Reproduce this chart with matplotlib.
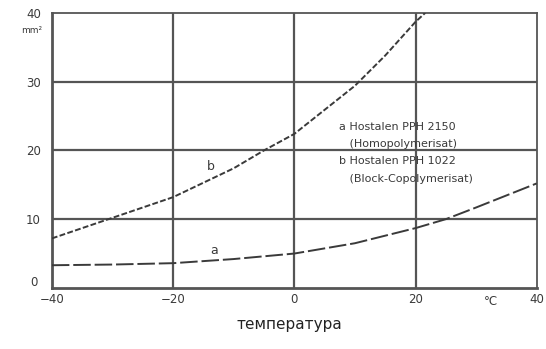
import matplotlib
matplotlib.use("Agg")
import matplotlib.pyplot as plt

# curve b: Hostalen PPH 1022 (Block-Copolymerisat)
b_temp = [-40, -30, -20, -10, -5, 0, 5, 10, 15, 20, 21.6]
b_val = [7.2, 10.2, 13.2, 17.4, 20.0, 22.4, 25.9, 29.4, 33.8, 38.7, 40.0]
# curve a: Hostalen PPH 2150 (Homopolymerisat)
a_temp = [-40, -30, -20, -10, 0, 10, 20, 25, 30, 40]
a_val = [3.3, 3.4, 3.6, 4.2, 5.0, 6.5, 8.7, 10.0, 11.7, 15.2]

x_ticks = [-40, -20, 0, 20, 40]
x_labels = ["\u221240", "\u221220", "0", "20", "40"]
y_ticks = [10, 20, 30, 40]

legend_lines = [
    "a Hostalen PPH 2150",
    "   (Homopolymerisat)",
    "b Hostalen PPH 1022",
    "   (Block-Copolymerisat)",
]

ink = "#3a3a3a"
grid = "#555555"
narrow = ["DejaVu Sans Condensed", "Liberation Sans Narrow", "DejaVu Sans"]

fig = plt.figure(figsize=(5.46, 3.49), dpi=100)
ax = fig.add_axes([0.095, 0.175, 0.888, 0.788])
ax.set_xlim(-40, 40)
ax.set_ylim(0, 40)

for v in [-20, 0, 20]:
    ax.axvline(v, color=grid, lw=1.6, zorder=1)
for h in [10, 20, 30]:
    ax.axhline(h, color=grid, lw=1.6, zorder=1)

ax.plot(b_temp, b_val, color=ink, lw=1.4, ls=(0, (3, 1.2)), zorder=3)
ax.plot(a_temp, a_val, color=ink, lw=1.4, ls=(0, (9, 2)), zorder=3)

ax.text(-13.7, 17.6, "b", fontsize=9, color=ink, ha="center", va="center")
ax.text(-13.2, 5.5, "a", fontsize=9, color=ink, ha="center", va="center")

for i, line in enumerate(legend_lines):
    ax.text(7.4, 23.4 - i * 2.5, line, fontsize=8, color=ink,
            family=narrow, va="center")

for side in ["left", "bottom"]:
    ax.spines[side].set_linewidth(2.0)
    ax.spines[side].set_color(grid)
for side in ["top", "right"]:
    ax.spines[side].set_linewidth(1.3)
    ax.spines[side].set_color(grid)

ax.set_xticks(x_ticks)
ax.set_xticklabels(x_labels)
ax.set_yticks(y_ticks)
ax.tick_params(length=0, labelsize=8.5, labelcolor=ink, pad=4)
ax.tick_params(axis="y", pad=8)
ax.text(-42.4, 0.8, "0", fontsize=8.5, color=ink, ha="right", va="center")
ax.text(32.5, -1.0, "\u00b0C", fontsize=8.5, color=ink, ha="center", va="top")
ax.text(-43.4, 37.5, "mm\u00b2", fontsize=6.5, color=ink, ha="center", va="center")

fig.text(0.53, 0.07, "температура", fontsize=11, color="#222",
         family=narrow, ha="center", va="center")

fig.savefig("out.png", dpi=100, facecolor="white")
